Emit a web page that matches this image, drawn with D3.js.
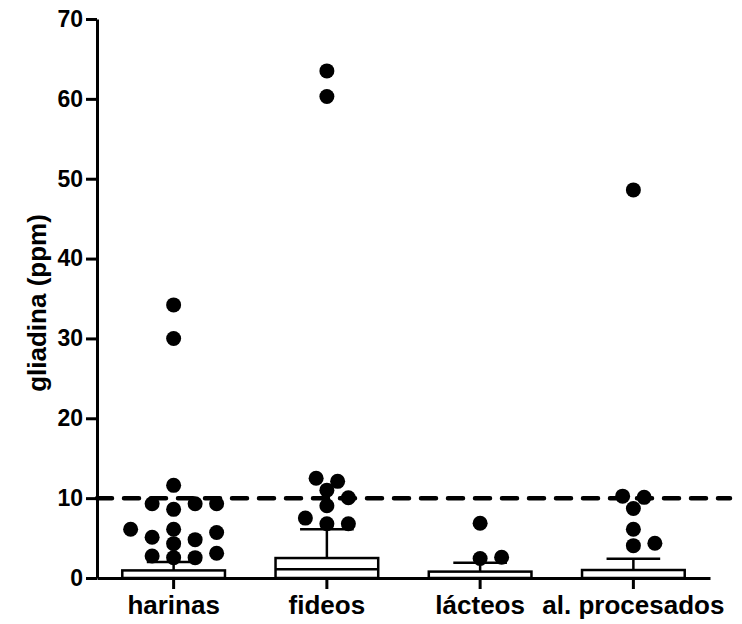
<!DOCTYPE html>
<html>
<head>
<meta charset="utf-8">
<script src="https://cdn.jsdelivr.net/npm/d3@7"></script>
<style>
body { margin: 0; background: #fff; }
text { font-family: "Liberation Sans", Arial, sans-serif; font-weight: bold; fill: #000; }
</style>
</head>
<body>
<svg id="chart" width="742" height="624"></svg>
<script>
var categories = ["harinas", "fideos", "lácteos", "al. procesados"];

// individual samples (ppm) for each group
var harinas = [34.2, 30.0, 11.6, 9.3, 9.3, 9.3, 8.6, 6.1, 6.1, 5.7, 5.1, 4.8, 4.3, 3.1, 2.75, 2.55, 2.55];
var fideos = [63.5, 60.3, 12.5, 12.1, 11.0, 10.05, 9.05, 7.5, 6.8, 6.8];
var lacteos = [6.85, 2.6, 2.45];
var procesados = [48.6, 10.25, 10.1, 8.7, 6.1, 4.35, 4.05];

var barValues = [0.95, 2.5, 0.8, 1.0];
var barInner = [null, 1.1, null, null];
var errTop = [2.0, 6.1, 1.9, 2.4];
var yTicks = [0, 10, 20, 30, 40, 50, 60, 70];
var limit = 10;

var samples = [harinas, fideos, lacteos, procesados];

var svg = d3.select("#chart");

var x = d3.scaleBand().domain(categories).range([97, 710]).padding(0);
var y = d3.scaleLinear().domain([0, 70]).range([578, 19]);

var barW = x.bandwidth() * 0.67;
var capW = x.bandwidth() * 0.35;
var r = 7.5;

// y axis
var yAxis = svg.append("g")
    .attr("transform", "translate(97,0)")
    .call(d3.axisLeft(y).tickValues(yTicks).tickSize(11).tickSizeOuter(0).tickPadding(3));
yAxis.selectAll("path, line").attr("stroke", "#000").attr("stroke-width", 3);
yAxis.selectAll("text").attr("font-size", 23).attr("font-family", "Liberation Sans, Arial, sans-serif").attr("font-weight", "bold").attr("fill", "#000");

// x axis
var xAxis = svg.append("g")
    .attr("transform", "translate(0,578)")
    .call(d3.axisBottom(x).tickSize(11).tickSizeOuter(0).tickPadding(7));
xAxis.selectAll("path, line").attr("stroke", "#000").attr("stroke-width", 3);
xAxis.selectAll("text").attr("font-size", 26).attr("font-family", "Liberation Sans, Arial, sans-serif").attr("font-weight", "bold").attr("fill", "#000");

svg.append("text")
    .attr("transform", "translate(46,303) rotate(-90)")
    .attr("text-anchor", "middle")
    .attr("font-size", 26)
    .text("gliadina (ppm)");

function cx(i) { return x(categories[i]) + x.bandwidth() / 2; }

// bars + error bars
var bars = svg.append("g").selectAll("g")
    .data(categories)
    .enter().append("g");

bars.append("line")
    .attr("x1", function(d, i) { return cx(i); })
    .attr("x2", function(d, i) { return cx(i); })
    .attr("y1", function(d, i) { return y(barValues[i]); })
    .attr("y2", function(d, i) { return y(errTop[i]); })
    .attr("stroke", "#000").attr("stroke-width", 2.5);

bars.append("line")
    .attr("x1", function(d, i) { return cx(i) - capW / 2; })
    .attr("x2", function(d, i) { return cx(i) + capW / 2; })
    .attr("y1", function(d, i) { return y(errTop[i]); })
    .attr("y2", function(d, i) { return y(errTop[i]); })
    .attr("stroke", "#000").attr("stroke-width", 2.5);

bars.append("rect")
    .attr("x", function(d, i) { return cx(i) - barW / 2; })
    .attr("width", barW)
    .attr("y", function(d, i) { return y(barValues[i]); })
    .attr("height", function(d, i) { return y(0) - y(barValues[i]); })
    .attr("fill", "#fff")
    .attr("stroke", "#000").attr("stroke-width", 2.5);

bars.filter(function(d, i) { return barInner[i] != null; })
  .append("line")
    .attr("x1", function(d) { var i = categories.indexOf(d); return cx(i) - barW / 2; })
    .attr("x2", function(d) { var i = categories.indexOf(d); return cx(i) + barW / 2; })
    .attr("y1", function(d) { return y(barInner[categories.indexOf(d)]); })
    .attr("y2", function(d) { return y(barInner[categories.indexOf(d)]); })
    .attr("stroke", "#000").attr("stroke-width", 2.5);

// 10 ppm limit
svg.append("line")
    .attr("x1", 97)
    .attr("x2", 730)
    .attr("y1", y(limit))
    .attr("y2", y(limit))
    .attr("stroke", "#000")
    .attr("stroke-width", 4.5)
    .attr("stroke-linecap", "round")
    .attr("stroke-dasharray", "15 12");

// simple beeswarm: lowest points first, nearest free slot to the centre
// (dots may overlap a little, like the original)
function swarm(vals, center) {
  var placed = [];
  var step = 10.75;
  vals.slice().sort(function(a, b) { return a - b; }).forEach(function(v) {
    var py = y(v);
    for (var k = 0; k < 40; k++) {
      var off = k === 0 ? 0 : (k % 2 ? 1 : -1) * Math.ceil(k / 2) * step;
      var px = center + off;
      var hit = placed.some(function(p) {
        return Math.hypot(p.x - px, p.y - py) < 1.85 * r;
      });
      if (!hit) { placed.push({x: px, y: py, v: v}); break; }
    }
  });
  return placed;
}

var dots = [];
samples.forEach(function(vals, i) {
  dots = dots.concat(swarm(vals, cx(i)));
});

svg.append("g").selectAll("circle")
    .data(dots)
    .enter().append("circle")
    .attr("cx", function(d) { return d.x; })
    .attr("cy", function(d) { return d.y; })
    .attr("r", r)
    .attr("fill", "#000");
</script>
</body>
</html>
